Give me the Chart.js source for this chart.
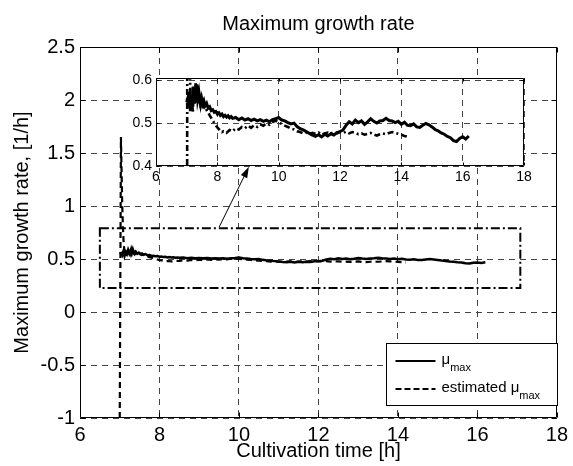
<!DOCTYPE html>
<html><head><meta charset="utf-8">
<script src="https://cdn.jsdelivr.net/npm/chart.js@4.4.0/dist/chart.umd.min.js"></script>
<style>
html,body{margin:0;padding:0;background:#fff;}
#wrap{position:relative;width:573px;height:466px;overflow:hidden;}
#main{position:absolute;left:0;top:0;}
#inset{position:absolute;left:100px;top:60px;}
</style></head><body>
<div id="wrap">
<canvas id="main" width="573" height="466"></canvas>
<canvas id="inset" width="440" height="130"></canvas>
</div>
<script>
const chartTitle = 'Maximum growth rate';
const xAxisTitle = 'Cultivation time [h]';
const yAxisTitle = 'Maximum growth rate, [1/h]';
const seriesNames = ['μmax', 'estimated μmax'];
const legendBase = ['μ', 'estimated μ'];
const legendSub = ['max', 'max'];

const xTicks = [6, 8, 10, 12, 14, 16, 18];
const xTickLabels = ['6', '8', '10', '12', '14', '16', '18'];
const yTicks = [-1, -0.5, 0, 0.5, 1, 1.5, 2, 2.5];
const yTickLabels = ['-1', '-0.5', '0', '0.5', '1', '1.5', '2', '2.5'];
const insetXTicks = [6, 8, 10, 12, 14, 16, 18];
const insetXTickLabels = ['6', '8', '10', '12', '14', '16', '18'];
const insetYTicks = [0.4, 0.5, 0.6];
const insetYTickLabels = ['0.4', '0.5', '0.6'];

// mu_max (solid)
const muTime = [7.00,7.03,7.06,7.09,7.12,7.15,7.18,7.21,7.24,7.27,7.30,7.33,7.36,7.40,7.44,7.48,7.52,7.56,7.60,7.65,7.70,7.75,7.80,7.85,7.90,7.95,
  8.00,8.05,8.10,8.15,8.20,8.25,8.30,8.35,8.40,8.45,8.50,8.60,8.70,8.80,8.90,9.00,9.10,9.20,9.30,9.40,9.50,9.60,9.70,9.80,9.90,
  10.00,10.10,10.20,10.30,10.40,10.50,10.60,10.70,10.80,10.90,11.00,11.10,11.20,11.30,11.40,11.50,11.60,11.70,11.80,11.90,
  12.00,12.10,12.20,12.30,12.40,12.50,12.60,12.70,12.80,12.90,13.00,13.10,13.20,13.30,13.40,13.50,13.60,13.70,13.80,13.90,
  14.00,14.10,14.20,14.30,14.40,14.50,14.60,14.70,14.80,14.90,15.00,15.10,15.20,15.30,15.40,15.50,15.60,15.70,15.80,15.90,
  16.00,16.10,16.20];
const muValue = [0.548,0.556,0.535,0.572,0.528,0.566,0.545,0.585,0.552,0.578,0.548,0.590,0.556,0.572,0.550,0.560,0.545,0.552,0.540,0.546,0.535,0.538,0.529,0.531,0.525,0.527,
  0.521,0.524,0.518,0.521,0.515,0.518,0.514,0.517,0.512,0.515,0.511,0.513,0.508,0.512,0.507,0.510,0.506,0.509,0.505,0.508,0.504,0.507,0.503,0.508,0.510,0.513,
  0.507,0.505,0.501,0.498,0.500,0.492,0.487,0.484,0.480,0.476,0.472,0.469,0.473,0.468,0.474,0.470,0.475,0.472,0.478,0.480,
  0.484,0.495,0.503,0.498,0.507,0.501,0.505,0.497,0.503,0.510,0.504,0.500,0.505,0.506,0.511,0.506,0.505,0.501,0.504,0.497,
  0.502,0.495,0.494,0.498,0.491,0.490,0.495,0.499,0.496,0.491,0.485,0.482,0.477,0.474,0.469,0.466,0.459,0.457,0.464,0.468,
  0.463,0.470,0.467];

// estimated mu_max (dashed)
const estTime = [7.00,7.03,7.06,7.08,7.10,7.12,7.14,7.17,7.20,7.23,7.26,7.29,7.32,7.35,7.38,7.42,7.46,7.50,7.55,7.60,7.65,7.70,7.75,7.80,7.85,7.90,7.95,
  8.00,8.05,8.10,8.15,8.20,8.30,8.40,8.50,8.60,8.70,8.80,8.90,9.00,9.10,9.20,9.30,9.40,9.50,9.60,9.70,9.80,9.90,
  10.00,10.10,10.20,10.30,10.40,10.50,10.60,10.70,10.80,10.90,11.00,11.10,11.20,11.30,11.40,11.50,11.60,11.70,11.80,11.90,
  12.00,12.10,12.20,12.30,12.40,12.50,12.60,12.70,12.80,12.90,13.00,13.10,13.20,13.30,13.40,13.50,13.60,13.70,13.80,13.90,
  14.00,14.10,14.20];
const estValue = [-1.0,1.65,1.05,0.80,0.64,0.57,0.53,0.56,0.525,0.575,0.545,0.595,0.55,0.58,0.545,0.565,0.54,0.552,0.538,0.542,0.530,0.525,0.518,0.512,0.506,0.500,0.495,
  0.490,0.486,0.482,0.479,0.481,0.477,0.484,0.481,0.488,0.485,0.491,0.488,0.494,0.489,0.495,0.491,0.497,0.494,0.499,0.496,0.502,0.506,
  0.501,0.498,0.494,0.491,0.487,0.485,0.481,0.479,0.476,0.478,0.474,0.477,0.475,0.478,0.473,0.476,0.478,0.475,0.479,0.476,
  0.479,0.477,0.480,0.476,0.479,0.477,0.474,0.476,0.473,0.475,0.477,0.473,0.471,0.474,0.476,0.474,0.477,0.479,0.477,0.475,
  0.473,0.470,0.468];

// zoom box (dash-dot) and arrow, in data units of the main axes
const zoomBoxX = [6.5, 17.08];
const zoomBoxY = [0.226, 0.79];
const arrowX = [9.5, 10.25];
const arrowY = [0.80, 1.37];

const FONT = '"Liberation Sans", Arial, Helvetica, sans-serif';
Chart.defaults.font.family = FONT;
Chart.defaults.color = '#000';

const toPts = (xs, ys) => xs.map((x, i) => ({x: x, y: ys[i]}));
const gridColor = '#444';

function boxAndTicks(chart, xs, ys, len) {
  const {ctx, chartArea: a, scales: {x, y}} = chart;
  ctx.save();
  ctx.strokeStyle = '#000'; ctx.lineWidth = 1; ctx.setLineDash([]);
  const L = Math.round(a.left) + 0.5, R = Math.round(a.right) - 0.5, T = Math.round(a.top) + 0.5, B = Math.round(a.bottom) - 0.5;
  ctx.beginPath();
  ctx.rect(L, T, R - L, B - T);
  xs.forEach(v => { const p = Math.round(x.getPixelForValue(v)) + 0.5; ctx.moveTo(p, B); ctx.lineTo(p, B - len); ctx.moveTo(p, T); ctx.lineTo(p, T + len); });
  ys.forEach(v => { const p = Math.round(y.getPixelForValue(v)) + 0.5; ctx.moveTo(L, p); ctx.lineTo(L + len, p); ctx.moveTo(R, p); ctx.lineTo(R - len, p); });
  ctx.stroke();
  ctx.restore();
}

const mainDecor = {
  id: 'mainDecor',
  afterDatasetsDraw(chart) {
    const {ctx, chartArea: a, scales: {x, y}} = chart;
    ctx.save();
    // dash-dot zoom box
    ctx.strokeStyle = '#000'; ctx.lineWidth = 2; ctx.setLineDash([9, 3, 2, 3]);
    const bx0 = x.getPixelForValue(zoomBoxX[0]), bx1 = x.getPixelForValue(zoomBoxX[1]);
    const by0 = y.getPixelForValue(zoomBoxY[1]), by1 = y.getPixelForValue(zoomBoxY[0]);
    ctx.strokeRect(bx0, by0, bx1 - bx0, by1 - by0);
    // arrow
    ctx.setLineDash([]); ctx.lineWidth = 1;
    const tx = x.getPixelForValue(arrowX[0]), ty = y.getPixelForValue(arrowY[0]);
    const hx = x.getPixelForValue(arrowX[1]), hy = y.getPixelForValue(arrowY[1]);
    const ang = Math.atan2(hy - ty, hx - tx);
    ctx.beginPath(); ctx.moveTo(tx, ty); ctx.lineTo(hx - 8 * Math.cos(ang), hy - 8 * Math.sin(ang)); ctx.stroke();
    ctx.beginPath();
    ctx.moveTo(hx, hy);
    ctx.lineTo(hx - 11 * Math.cos(ang) + 3.5 * Math.sin(ang), hy - 11 * Math.sin(ang) - 3.5 * Math.cos(ang));
    ctx.lineTo(hx - 11 * Math.cos(ang) - 3.5 * Math.sin(ang), hy - 11 * Math.sin(ang) + 3.5 * Math.cos(ang));
    ctx.closePath(); ctx.fillStyle = '#000'; ctx.fill();
    ctx.restore();

    boxAndTicks(chart, xTicks, yTicks, 5);

    // legend
    ctx.save();
    const w = 171, h = 62;
    const lx = Math.round(a.right - w) + 0.5, ly = Math.round(a.bottom - 75) + 0.5;
    ctx.fillStyle = '#fff'; ctx.fillRect(lx, ly, w, h);
    ctx.strokeStyle = '#000'; ctx.lineWidth = 1; ctx.strokeRect(lx, ly, w, h);
    const rows = [17, 45];
    const dashes = [[], [6, 3]];
    rows.forEach((ry, i) => {
      const yy = Math.round(ly + ry);
      ctx.setLineDash(dashes[i]); ctx.lineWidth = 2;
      ctx.beginPath(); ctx.moveTo(lx + 9, yy); ctx.lineTo(lx + 49, yy); ctx.stroke();
      ctx.setLineDash([]);
      ctx.fillStyle = '#000'; ctx.textAlign = 'left'; ctx.textBaseline = 'alphabetic';
      ctx.font = '15px ' + FONT;
      const bx = lx + 55;
      ctx.fillText(legendBase[i], bx, yy + 3);
      const bw = ctx.measureText(legendBase[i]).width;
      ctx.font = '11px ' + FONT;
      ctx.fillText(legendSub[i], bx + bw, yy + 10);
    });
    ctx.restore();
  }
};

const insetDecor = {
  id: 'insetDecor',
  beforeDraw(chart) {
    const {ctx, chartArea: a} = chart;
    ctx.save(); ctx.fillStyle = '#fff';
    ctx.fillRect(a.left, a.top, a.right - a.left, a.bottom - a.top);
    ctx.restore();
  },
  afterDatasetsDraw(chart) {
    boxAndTicks(chart, insetXTicks, insetYTicks, 3);
  }
};

new Chart(document.getElementById('main'), {
  type: 'line',
  data: {
    datasets: [
      {label: seriesNames[1], data: toPts(estTime, estValue), borderColor: '#000', borderWidth: 2.2, borderDash: [6, 4], pointRadius: 0, tension: 0, fill: false},
      {label: seriesNames[0], data: toPts(muTime, muValue), borderColor: '#000', borderWidth: 2.5, pointRadius: 0, tension: 0, fill: false}
    ]
  },
  options: {
    responsive: false, animation: false, events: [],
    layout: {padding: {left: 0, right: 13, top: 0, bottom: 0}},
    plugins: {
      legend: {display: false}, tooltip: {enabled: false},
      title: {display: true, fullSize: false, text: chartTitle, color: '#000', font: {size: 20, weight: 'normal', family: FONT}, padding: {top: 12, bottom: 11}}
    },
    scales: {
      x: {
        type: 'linear', min: 6, max: 18,
        afterBuildTicks: s => { s.ticks = xTicks.map(v => ({value: v})); },
        afterFit: s => { s.height = 48; },
        ticks: {font: {size: 20}, color: '#000', padding: 5, maxRotation: 0, autoSkip: false,
          callback: v => xTickLabels[xTicks.indexOf(v)]},
        grid: {color: gridColor, lineWidth: 1, drawTicks: false},
        border: {display: false, dash: [6, 5]},
        title: {display: true, text: xAxisTitle, color: '#000', font: {size: 20}, padding: {top: 0, bottom: 3}}
      },
      y: {
        type: 'linear', min: -1, max: 2.5,
        afterBuildTicks: s => { s.ticks = yTicks.map(v => ({value: v})); },
        afterFit: s => { s.width = 80; },
        ticks: {font: {size: 20}, color: '#000', padding: 5, autoSkip: false,
          callback: v => yTickLabels[yTicks.indexOf(v)]},
        grid: {color: gridColor, lineWidth: 1, drawTicks: false},
        border: {display: false, dash: [6, 5]},
        title: {display: true, text: yAxisTitle, color: '#000', font: {size: 20}, padding: {top: 10, bottom: 0}}
      }
    }
  },
  plugins: [mainDecor]
});

new Chart(document.getElementById('inset'), {
  type: 'line',
  data: {
    datasets: [
      {label: seriesNames[1], data: toPts(estTime, estValue), borderColor: '#000', borderWidth: 2.6, borderDash: [6, 3, 2, 3], pointRadius: 0, tension: 0, fill: false},
      {label: seriesNames[0], data: toPts(muTime, muValue), borderColor: '#000', borderWidth: 3, pointRadius: 0, tension: 0, fill: false}
    ]
  },
  options: {
    responsive: false, animation: false, events: [],
    layout: {padding: {left: 0, right: 16, top: 18, bottom: 0}},
    plugins: {legend: {display: false}, tooltip: {enabled: false}, title: {display: false}},
    scales: {
      x: {
        type: 'linear', min: 6, max: 18,
        afterBuildTicks: s => { s.ticks = insetXTicks.map(v => ({value: v})); },
        afterFit: s => { s.height = 24; },
        ticks: {font: {size: 14}, color: '#000', padding: 3, maxRotation: 0, autoSkip: false,
          callback: v => insetXTickLabels[insetXTicks.indexOf(v)]},
        grid: {color: gridColor, lineWidth: 1, drawTicks: false},
        border: {display: false, dash: [6, 5]}
      },
      y: {
        type: 'linear', min: 0.4, max: 0.605,
        afterBuildTicks: s => { s.ticks = insetYTicks.map(v => ({value: v})); },
        afterFit: s => { s.width = 56; },
        ticks: {font: {size: 14}, color: '#000', padding: 4, autoSkip: false,
          callback: v => insetYTickLabels[insetYTicks.indexOf(v)]},
        grid: {color: gridColor, lineWidth: 1, drawTicks: false},
        border: {display: false, dash: [6, 5]}
      }
    }
  },
  plugins: [insetDecor]
});
</script>
</body></html>
